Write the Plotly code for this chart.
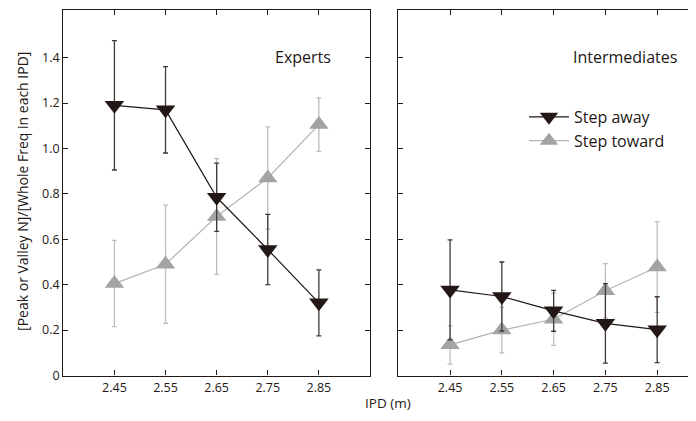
import plotly.graph_objects as go

ipd = [2.45, 2.55, 2.65, 2.75, 2.85]

# Experts
exp_away = [1.19, 1.17, 0.785, 0.555, 0.32]
exp_away_err = [0.285, 0.19, 0.15, 0.155, 0.145]
exp_toward = [0.405, 0.49, 0.70, 0.87, 1.105]
exp_toward_err = [0.19, 0.26, 0.255, 0.225, 0.118]

# Intermediates
int_away = [0.377, 0.348, 0.285, 0.23, 0.202]
int_away_err = [0.22, 0.152, 0.09, 0.175, 0.145]
int_toward = [0.135, 0.2, 0.248, 0.373, 0.478]
int_toward_err = [0.085, 0.1, 0.115, 0.12, 0.2]

yticks = [0, 0.2, 0.4, 0.6, 0.8, 1.0, 1.2, 1.4]
yticktext = ["0", "0.2", "0.4", "0.6", "0.8", "1.0", "1.2", "1.4"]
xticktext = ["2.45", "2.55", "2.65", "2.75", "2.85"]

DARK = "#231815"
DARK_ERR = "#433838"
GRAY = "#a3a3a3"
GRAY_LINE = "#b4b4b4"
GRAY_ERR = "#bdbdbd"
FONT = "Open Sans"

fig = go.Figure()

def add(x, y, err, xa, ya, away, show):
    if away:
        fig.add_trace(go.Scatter(
            x=x, y=y, xaxis=xa, yaxis=ya, mode="lines+markers",
            name="Step away", showlegend=show, legendrank=1,
            line=dict(color=DARK, width=1.2),
            marker=dict(symbol="triangle-down", size=17, color=DARK),
            error_y=dict(type="data", array=err, color=DARK_ERR, thickness=1.3, width=2.5)))
    else:
        fig.add_trace(go.Scatter(
            x=x, y=y, xaxis=xa, yaxis=ya, mode="lines+markers",
            name="Step toward", showlegend=show, legendrank=2,
            line=dict(color=GRAY_LINE, width=1.2),
            marker=dict(symbol="triangle-up", size=17, color=GRAY),
            error_y=dict(type="data", array=err, color=GRAY_ERR, thickness=1.3, width=2.5)))

add(ipd, exp_toward, exp_toward_err, "x", "y", False, False)
add(ipd, exp_away, exp_away_err, "x", "y", True, False)
add(ipd, int_toward, int_toward_err, "x2", "y2", False, True)
add(ipd, int_away, int_away_err, "x2", "y2", True, True)

# the page puts the figure 8px right and down from the window corner
OFF = 8
W, H = 696 - OFF, 421 - OFF

def px(x):
    return (x - OFF) / W

def py(y):
    return 1 - (y - OFF) / H

ydom = [py(382.7), py(8.7)]

axis_common = dict(showline=True, linecolor=DARK, linewidth=1.2, ticks="inside",
                   ticklen=5, tickcolor=DARK, showgrid=False, zeroline=False,
                   tickfont=dict(family=FONT, size=12.5, color="#231815"))

def label(text, x, y, size, angle=0):
    return dict(text=text, x=px(x), y=py(y), xref="paper", yref="paper",
                xanchor="center", yanchor="middle", textangle=angle,
                showarrow=False, font=dict(family=FONT, size=size, color="#231815"))

fig.update_layout(
    width=W, height=H,
    margin=dict(l=0, r=0, t=0, b=0),
    paper_bgcolor="white", plot_bgcolor="white",
    font=dict(family=FONT, color="#231815"),
    xaxis=dict(domain=[px(63.3), px(370)], range=[2.35, 2.95], tickvals=ipd,
               ticktext=xticktext, mirror="ticks", anchor="y", **axis_common),
    yaxis=dict(domain=ydom, range=[0, 1.611], tickvals=yticks, ticktext=yticktext,
               mirror="ticks", anchor="x", **axis_common),
    xaxis2=dict(domain=[px(398.3), 1.0], range=[2.35, 2.925], tickvals=ipd,
                ticktext=xticktext, mirror="ticks", anchor="y2", **axis_common),
    yaxis2=dict(domain=ydom, range=[0, 1.611], tickvals=yticks, showticklabels=False,
                mirror=False, anchor="x2", **axis_common),
    legend=dict(x=px(524), y=py(101), xanchor="left", yanchor="top",
                bgcolor="rgba(0,0,0,0)", font=dict(family=FONT, size=16),
                tracegroupgap=0, itemwidth=40),
    annotations=[
        label("Experts", 303, 57, 16),
        label("Intermediates", 625, 57, 16),
        label("IPD (m)", 388, 411, 13.5),
        label("[Peak or Valley N]/[Whole Freq in each IPD]", 23, 195, 14, -90),
    ],
)

fig.write_html("out.html")
